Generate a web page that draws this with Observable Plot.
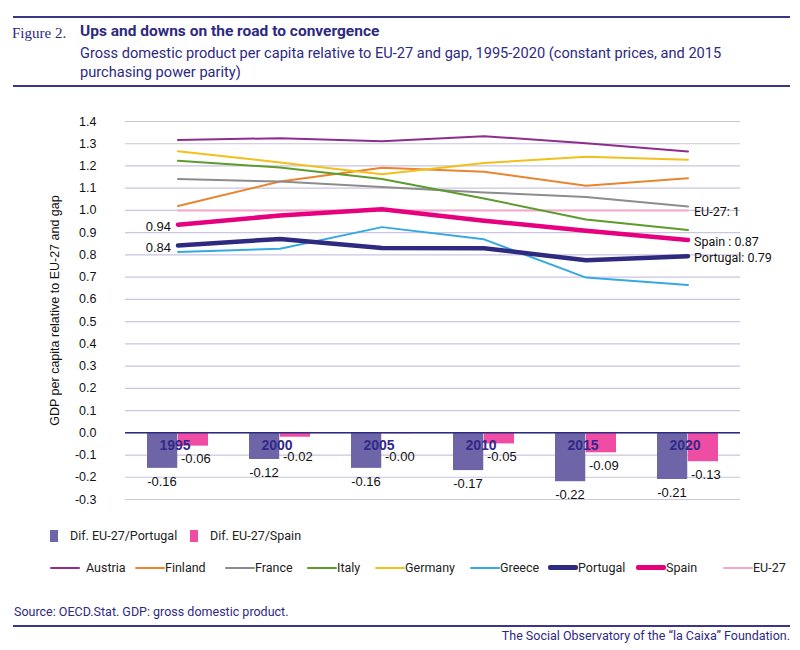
<!DOCTYPE html>
<html><head><meta charset="utf-8">
<script src="https://cdn.jsdelivr.net/npm/d3@7"></script>
<script src="https://cdn.jsdelivr.net/npm/@observablehq/plot@0.6"></script>
<style>
body{margin:0;width:800px;height:650px;position:relative;background:#fff;font-family:Roboto,"Liberation Sans",sans-serif;color:#2e2a7f;overflow:hidden}
.rule{position:absolute;left:13px;width:777px;height:2px;background:#3b3688}
#fig{position:absolute;left:12px;top:25px;font-family:"Liberation Serif","DejaVu Serif",serif;font-size:15px;color:#2e2a7f}
#title{position:absolute;left:80px;top:22px;font-weight:bold;font-size:15.5px;color:#2e2a7f}
#sub{position:absolute;left:80px;top:44px;width:700px;font-size:14.6px;line-height:19px;color:#2e2a7f}
#chart{position:absolute;left:0;top:95px}
.leg{position:absolute;left:50px;display:flex;font-size:12.5px;color:#222;font-family:Roboto,sans-serif}
.leg .it{display:flex;align-items:center}
.sq{width:8px;height:12px;margin-right:12px}
.ln{width:30px;margin-right:3px;border-radius:2px}
#source{position:absolute;left:14px;top:604px;font-size:12.5px;color:#2e2a7f}
#credit{position:absolute;right:10px;top:628px;font-size:12.5px;color:#2e2a7f}
</style></head>
<body>
<div class="rule" style="top:16px"></div>
<div id="fig">Figure 2.</div>
<div id="title">Ups and downs on the road to convergence</div>
<div id="sub">Gross domestic product per capita relative to EU-27 and gap, 1995-2020 (constant prices, and 2015 purchasing power parity)</div>
<div class="rule" style="top:85px"></div>
<div id="chart"></div>
<div class="leg" id="leg1" style="top:528px"></div>
<div class="leg" id="leg2" style="top:560px"></div>
<div id="source">Source: OECD.Stat. GDP: gross domestic product.</div>
<div class="rule" style="top:625px"></div>
<div id="credit">The Social Observatory of the “la Caixa” Foundation.</div>
<script>
const years = ["1995","2000","2005","2010","2015","2020"];
const yTicks = [-0.3,-0.2,-0.1,0,0.1,0.2,0.3,0.4,0.5,0.6,0.7,0.8,0.9,1.0,1.1,1.2,1.3,1.4];
const countries = ["Austria","Finland","France","Italy","Germany","Greece","Portugal","Spain","EU-27"];
const austria  = [1.317,1.325,1.311,1.334,1.302,1.265];
const finland  = [1.020,1.130,1.192,1.174,1.111,1.145];
const france   = [1.141,1.130,1.105,1.081,1.060,1.018];
const italy    = [1.223,1.193,1.141,1.054,0.959,0.912];
const germany  = [1.266,1.216,1.163,1.213,1.241,1.228];
const greece   = [0.813,0.828,0.925,0.870,0.698,0.665];
const portugal = [0.842,0.872,0.831,0.830,0.776,0.794];
const spain    = [0.936,0.977,1.005,0.954,0.909,0.867];
const eu27     = [1,1,1,1,1,1];
const difPortugal = [-0.16,-0.12,-0.16,-0.17,-0.22,-0.21];
const difSpain    = [-0.06,-0.02,-0.004,-0.05,-0.09,-0.13];
const barNames = ["Dif. EU-27/Portugal","Dif. EU-27/Spain"];
const yLabel = "GDP per capita relative to EU-27 and gap";
const endLabels = [["EU-27","EU-27: "],["Spain","Spain : "],["Portugal","Portugal: "]];
const startLabels = ["Spain","Portugal"];

const seriesValues = {"Austria":austria,"Finland":finland,"France":france,"Italy":italy,"Germany":germany,"Greece":greece,"Portugal":portugal,"Spain":spain,"EU-27":eu27};
const colors = {"Austria":"#8e2d8e","Finland":"#e98530","France":"#8c8c8c","Italy":"#5d9b2c","Germany":"#f1c01c","Greece":"#36a9e1","Portugal":"#2e2a80","Spain":"#e6007e","EU-27":"#f5a9ca"};
const widths = {"Portugal":4.5,"Spain":4.5};
const barColors = ["#6e65a9","#ee4da3"];

const rows = c => years.map((y,i) => ({country:c, year:y, value:seriesValues[c][i]}));
const pRows = years.map((y,i)=>({year:y, value:difPortugal[i]}));
const sRows = years.map((y,i)=>({year:y, value:difSpain[i]}));
const drawOrder = ["EU-27","Austria","Finland","France","Italy","Germany","Greece","Portugal","Spain"];

const endData = endLabels.map(([c,p]) => {const v = seriesValues[c]; return {year:years[years.length-1], value:v[v.length-1], text:p + (+v[v.length-1].toFixed(2))};});
const startData = startLabels.map(c => ({year:years[0], value:seriesValues[c][0], text:seriesValues[c][0].toFixed(2)}));

const plot = Plot.plot({
  width:800, height:430,
  marginLeft:125, marginRight:60, marginTop:26, marginBottom:26,
  style:{fontFamily:"'Liberation Sans', Arial, sans-serif", fontSize:"12.5px", color:"#111", background:"transparent", overflow:"visible"},
  x:{type:"band", domain:years, paddingInner:0.4, paddingOuter:0.2, axis:null},
  y:{domain:[-0.3,1.4], axis:null},
  marks:[
    Plot.ruleY(yTicks, {stroke:"#c9c5e2", strokeWidth:1.2}),
    Plot.axisY(yTicks, {tickSize:0, tickPadding:29, tickFormat:d=>d.toFixed(1), label:yLabel, labelAnchor:"center", labelOffset:75, labelArrow:"none", fill:"#111"}),
    Plot.barY(pRows, {x:"year", y:"value", fill:barColors[0], insetRight:30.75}),
    Plot.barY(sRows, {x:"year", y:"value", fill:barColors[1], insetLeft:30.75}),
    Plot.ruleY([0], {stroke:"#2e2a80", strokeWidth:1.5}),
    Plot.text(years.map(y=>({year:y})), {x:"year", y:()=>0, text:"year", dy:13, dx:-3, fontWeight:"bold", fontSize:14, fill:"#33298a"}),
    Plot.text(pRows, {x:"year", y:"value", text:d=>d.value.toFixed(2), dy:13, dx:-16, fill:"#111", fontSize:13}),
    Plot.text(sRows, {x:"year", y:d=>Math.min(d.value,-0.05), text:d=>d.value.toFixed(2), dy:13, dx:3, textAnchor:"start", fill:"#111", fontSize:13}),
    ...drawOrder.map(c => Plot.line(rows(c), {x:"year", y:"value", stroke:colors[c], strokeWidth:widths[c]||2})),
    Plot.text(endData, {x:"year", y:"value", text:"text", textAnchor:"start", dx:6, dy:2, fill:"#111", fontSize:12.5, fontFamily:"Roboto, sans-serif"}),
    Plot.text(startData, {x:"year", y:"value", text:"text", textAnchor:"end", dx:-7, dy:2, fill:"#111", fontSize:13})
  ]
});
document.getElementById("chart").appendChild(plot);

const leg1 = document.getElementById("leg1");
barNames.forEach((n,i)=>{
  const it = document.createElement("div"); it.className="it"; it.style.width = i===0 ? "140px" : "auto";
  it.innerHTML = `<span class="sq" style="background:${barColors[i]}"></span><span>${n}</span>`;
  leg1.appendChild(it);
});
const leg2 = document.getElementById("leg2");
const legWidths = [85,90,82,68,95,78,88,87,90];
countries.forEach((c,i)=>{
  const it = document.createElement("div"); it.className="it"; it.style.width = legWidths[i]+"px";
  const h = widths[c] ? 5 : 2;
  it.innerHTML = `<span class="ln" style="background:${colors[c]};height:${h}px;margin-right:${i===0?6:0}px"></span><span>${c}</span>`;
  leg2.appendChild(it);
});
</script>
</body></html>
